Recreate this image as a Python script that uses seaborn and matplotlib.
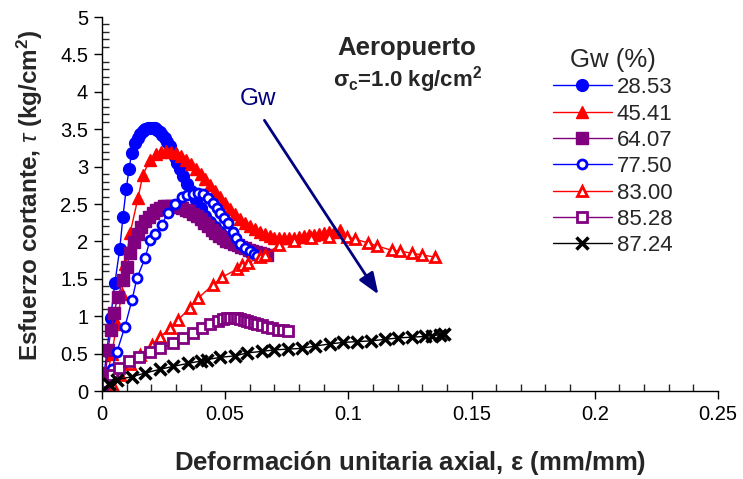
import matplotlib
matplotlib.use("Agg")
import matplotlib.pyplot as plt
import seaborn as sns
import pandas as pd

sns.set_style("ticks")
plt.rcParams['font.family'] = ['Liberation Sans', 'DejaVu Sans']
plt.rcParams['mathtext.fontset'] = 'custom'
plt.rcParams['mathtext.rm'] = 'Liberation Sans'
plt.rcParams['mathtext.bf'] = 'Liberation Sans:bold'
plt.rcParams['mathtext.it'] = 'Liberation Sans:italic'

# ---- data ----
x_2853 = [0, 0.002, 0.0035, 0.0052, 0.0072, 0.0085, 0.0098, 0.011, 0.012, 0.0134, 0.0145, 0.0155,
          0.0165, 0.0175, 0.0185, 0.0195, 0.0205, 0.0215, 0.0225, 0.0235, 0.0245, 0.0255, 0.0265,
          0.0275, 0.0285, 0.0295, 0.0305, 0.0315, 0.033, 0.0345, 0.036, 0.038, 0.040, 0.042, 0.044,
          0.046, 0.048, 0.050, 0.052, 0.054, 0.056, 0.058, 0.060, 0.062, 0.065]
y_2853 = [0, 0.53, 0.98, 1.44, 1.90, 2.33, 2.70, 2.97, 3.18, 3.31, 3.38, 3.43,
          3.47, 3.50, 3.51, 3.52, 3.52, 3.51, 3.49, 3.46, 3.42, 3.38, 3.33,
          3.27, 3.20, 3.13, 3.05, 2.97, 2.87, 2.77, 2.67, 2.55, 2.44, 2.34, 2.26,
          2.19, 2.12, 2.06, 2.02, 1.98, 1.94, 1.91, 1.89, 1.86, 1.84]

x_4541 = [0, 0.002, 0.004, 0.006, 0.008, 0.0095, 0.0114, 0.0146, 0.0166, 0.0195, 0.022, 0.024,
          0.026, 0.028, 0.030, 0.032, 0.034, 0.036, 0.038, 0.040, 0.042, 0.044, 0.046, 0.048,
          0.050, 0.052, 0.054, 0.056, 0.058, 0.060, 0.062, 0.064, 0.066, 0.068, 0.070, 0.072,
          0.074, 0.076, 0.078, 0.080, 0.082, 0.084, 0.086, 0.088, 0.090, 0.092, 0.094, 0.0966]
y_4541 = [0, 0.20, 0.50, 0.90, 1.30, 1.70, 2.11, 2.58, 2.89, 3.09, 3.17, 3.20,
          3.21, 3.20, 3.18, 3.14, 3.09, 3.03, 2.97, 2.90, 2.83, 2.75, 2.67, 2.59,
          2.51, 2.43, 2.36, 2.30, 2.25, 2.21, 2.17, 2.13, 2.10, 2.07, 2.05, 2.04,
          2.04, 2.05, 2.05, 2.06, 2.07, 2.08, 2.09, 2.10, 2.11, 2.12, 2.13, 2.15]

x_6407 = [0, 0.001, 0.0015, 0.0024, 0.0037, 0.0048, 0.0065, 0.0085, 0.010, 0.0115, 0.013, 0.0145,
          0.016, 0.0175, 0.019, 0.0205, 0.022, 0.0235, 0.025, 0.0265, 0.028, 0.0295, 0.031,
          0.0325, 0.034, 0.0355, 0.037, 0.0385, 0.040, 0.0415, 0.043, 0.0445, 0.046, 0.0475,
          0.049, 0.0505, 0.052, 0.0535, 0.055, 0.0565, 0.058, 0.0595, 0.061, 0.0625, 0.064,
          0.0655, 0.067]
y_6407 = [0, 0.12, 0.24, 0.55, 0.82, 1.04, 1.26, 1.48, 1.66, 1.84, 1.99, 2.10,
          2.19, 2.27, 2.33, 2.38, 2.42, 2.45, 2.47, 2.48, 2.48, 2.47, 2.46,
          2.44, 2.42, 2.40, 2.37, 2.34, 2.30, 2.25, 2.20, 2.15, 2.11, 2.07,
          2.04, 2.01, 1.99, 1.97, 1.95, 1.93, 1.91, 1.89, 1.87, 1.86, 1.84,
          1.83, 1.82]

x_7750 = [0, 0.002, 0.004, 0.006, 0.0093, 0.0122, 0.0142, 0.0175, 0.0195, 0.0215, 0.0243, 0.0266,
          0.0296, 0.0325, 0.0345, 0.037, 0.039, 0.041, 0.043, 0.045, 0.0465, 0.048, 0.0495,
          0.051, 0.053, 0.0545, 0.056, 0.058, 0.060, 0.0615, 0.063]
y_7750 = [0, 0.12, 0.30, 0.52, 0.86, 1.22, 1.51, 1.78, 2.02, 2.10, 2.22, 2.38,
          2.50, 2.59, 2.62, 2.64, 2.65, 2.63, 2.58, 2.51, 2.45, 2.38, 2.31,
          2.25, 2.12, 2.04, 1.97, 1.91, 1.87, 1.83, 1.80]

x_8300 = [0, 0.004, 0.0073, 0.0114, 0.0154, 0.0203, 0.0235, 0.0276, 0.0308, 0.0357, 0.039, 0.045,
          0.0487, 0.0548, 0.057, 0.0593, 0.064, 0.066, 0.072, 0.078, 0.085, 0.092, 0.0994,
          0.1027, 0.108, 0.1116, 0.1177, 0.121, 0.126, 0.130, 0.135]
y_8300 = [0, 0.10, 0.21, 0.36, 0.48, 0.62, 0.72, 0.84, 0.95, 1.11, 1.24, 1.42,
          1.52, 1.63, 1.68, 1.71, 1.79, 1.82, 1.95, 2.00, 2.04, 2.06, 2.06,
          2.03, 1.98, 1.94, 1.88, 1.87, 1.84, 1.82, 1.79]

x_8528 = [0, 0.002, 0.004, 0.007, 0.011, 0.015, 0.0195, 0.0235, 0.029, 0.033, 0.037, 0.0406,
          0.0438, 0.047, 0.049, 0.0507, 0.052, 0.0535, 0.0548, 0.056, 0.0575, 0.0588, 0.060,
          0.0615, 0.063, 0.065, 0.067, 0.069, 0.0714, 0.0735, 0.0755]
y_8528 = [0, 0.12, 0.22, 0.31, 0.40, 0.46, 0.52, 0.57, 0.64, 0.71, 0.78, 0.84,
          0.90, 0.94, 0.96, 0.97, 0.98, 0.98, 0.97, 0.96, 0.95, 0.94, 0.92,
          0.91, 0.90, 0.88, 0.86, 0.84, 0.82, 0.81, 0.80]

x_8724 = [0, 0.003, 0.006, 0.012, 0.0175, 0.0235, 0.029, 0.035, 0.040, 0.0426, 0.048, 0.054,
          0.059, 0.065, 0.070, 0.0755, 0.081, 0.0864, 0.0925, 0.098, 0.1035, 0.109, 0.115,
          0.120, 0.126, 0.131, 0.134, 0.137, 0.139]
y_8724 = [0, 0.10, 0.15, 0.19, 0.24, 0.29, 0.33, 0.37, 0.40, 0.42, 0.45, 0.47,
          0.51, 0.53, 0.55, 0.56, 0.57, 0.60, 0.63, 0.65, 0.66, 0.67, 0.69,
          0.71, 0.72, 0.73, 0.74, 0.75, 0.76]

labels = ['28.53', '45.41', '64.07', '77.50', '83.00', '85.28', '87.24']
xs = [x_2853, x_4541, x_6407, x_7750, x_8300, x_8528, x_8724]
ys = [y_2853, y_4541, y_6407, y_7750, y_8300, y_8528, y_8724]

x_ticks = [0, 0.05, 0.1, 0.15, 0.2, 0.25]
x_ticklabels = ['0', '0.05', '0.1', '0.15', '0.2', '0.25']
y_ticks = [0, 0.5, 1, 1.5, 2, 2.5, 3, 3.5, 4, 4.5, 5]
y_ticklabels = ['0', '0.5', '1', '1.5', '2', '2.5', '3', '3.5', '4', '4.5', '5']

styles = [
    dict(color='#0000FF', marker='o', ms=8.5, mfc='#0000FF', mec='#0000FF', mew=1),
    dict(color='#FF0000', marker='^', ms=9, mfc='#FF0000', mec='#FF0000', mew=1),
    dict(color='#800080', marker='s', ms=8, mfc='#800080', mec='#800080', mew=1),
    dict(color='#0000FF', marker='o', ms=6.5, mfc='white', mec='#0000FF', mew=2),
    dict(color='#FF0000', marker='^', ms=7, mfc='white', mec='#FF0000', mew=2),
    dict(color='#800080', marker='s', ms=6.5, mfc='white', mec='#800080', mew=2),
    dict(color='#000000', marker='x', ms=8, mfc='black', mec='black', mew=2.5),
]

frames = []
for lab, x, y in zip(labels, xs, ys):
    frames.append(pd.DataFrame({'strain': x, 'tau': y, 'Gw': lab}))
df = pd.concat(frames, ignore_index=True)

fig = plt.figure(figsize=(7.43, 4.79), dpi=100)
ax = fig.add_axes([0.1373, 0.1837, 0.829, 0.7808])

for lab, st in zip(labels, styles):
    sub = df[df['Gw'] == lab]
    sns.lineplot(data=sub, x='strain', y='tau', ax=ax, sort=False, estimator=None,
                 color=st['color'], marker=st['marker'], markersize=st['ms'],
                 markerfacecolor=st['mfc'], markeredgecolor=st['mec'],
                 markeredgewidth=st['mew'], linewidth=1, label=lab)

ax.set_xlim(0, 0.25)
ax.set_ylim(0, 5)
ax.set_xticks(x_ticks)
ax.set_xticklabels(x_ticklabels)
ax.set_yticks(y_ticks)
ax.set_yticklabels(y_ticklabels)
ax.set_xticks([i * 0.01 for i in range(26)], minor=True)
ax.set_yticks([i * 0.1 for i in range(51)], minor=True)
ax.tick_params(axis='both', which='major', direction='out', length=6, width=1,
               labelsize=14.5, colors='black', pad=4)
ax.tick_params(axis='both', which='minor', direction='in', length=5, width=1)
for s in ['top', 'right']:
    ax.spines[s].set_visible(False)
for s in ['left', 'bottom']:
    ax.spines[s].set_color('black')
    ax.spines[s].set_linewidth(1)

ax.set_xlabel('Deformación unitaria axial, $\\mathbf{\\varepsilon}$ (mm/mm)',
              fontsize=18.5, fontweight='bold', labelpad=18)
ax.set_ylabel('Esfuerzo cortante, $\\tau$ (kg/cm$^\\mathbf{2}$)',
              fontsize=17.5, fontweight='bold')
ax.yaxis.set_label_coords(-0.092, 0.524)

ax.text(0.1238, 4.59, 'Aeropuerto', fontsize=18.5, fontweight='bold', ha='center', va='center')
ax.text(0.1242, 4.16, '$\\mathbf{\\sigma_c}$=1.0 kg/cm$^\\mathbf{2}$', fontsize=16,
        fontweight='bold', ha='center', va='center')

ax.annotate('', xy=(0.1128, 1.26), xytext=(0.0653, 3.65),
            arrowprops=dict(arrowstyle='-|>,head_length=1.3,head_width=0.5',
                            color='#000080', lw=2))
ax.text(0.0633, 3.91, 'Gw', fontsize=17.5, color='#000080', ha='center', va='center')

leg = ax.legend(loc='upper left', bbox_to_anchor=(0.744, 0.9), bbox_transform=fig.transFigure,
                frameon=False, title='Gw (%)', fontsize=16, title_fontsize=18.5,
                handlelength=2.66, handletextpad=0.22, labelspacing=0.24, borderpad=0,
                borderaxespad=0)

fig.savefig('out.png', dpi=100)
